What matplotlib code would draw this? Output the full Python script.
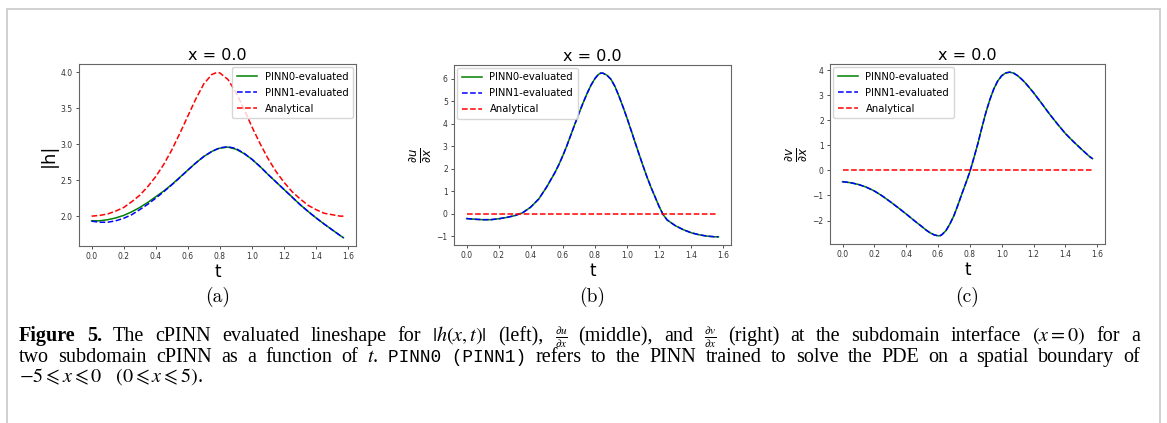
import numpy as np
import matplotlib
matplotlib.use('Agg')
import matplotlib.pyplot as plt
from matplotlib.patches import Rectangle

# === Data (t in [0, pi/2]), x = 0 ===
t_a = [0.00, 0.05, 0.10, 0.15, 0.20, 0.25, 0.30, 0.35, 0.40, 0.45, 0.50,
       0.55, 0.60, 0.65, 0.70, 0.75, 0.785, 0.80, 0.85, 0.90, 0.95, 1.00,
       1.05, 1.10, 1.15, 1.20, 1.25, 1.30, 1.35, 1.40, 1.45, 1.50, 1.55, 1.57]
h_pinn0 = [1.935, 1.935, 1.95, 1.975, 2.01, 2.06, 2.12, 2.19, 2.27, 2.35, 2.44,
           2.54, 2.64, 2.74, 2.83, 2.90, 2.935, 2.945, 2.96, 2.93, 2.87, 2.79,
           2.69, 2.58, 2.475, 2.37, 2.265, 2.16, 2.065, 1.975, 1.89, 1.81, 1.73, 1.70]
h_pinn1 = [1.93, 1.915, 1.915, 1.935, 1.97, 2.02, 2.09, 2.165, 2.25, 2.34, 2.435,
           2.535, 2.64, 2.74, 2.83, 2.90, 2.935, 2.95, 2.965, 2.94, 2.875, 2.79,
           2.69, 2.58, 2.475, 2.37, 2.265, 2.16, 2.065, 1.975, 1.89, 1.81, 1.73, 1.70]
h_exact = [2.00, 2.01, 2.03, 2.07, 2.12, 2.20, 2.29, 2.41, 2.55, 2.72, 2.92,
           3.15, 3.39, 3.63, 3.84, 3.97, 4.00, 3.99, 3.90, 3.72, 3.49, 3.24,
           3.01, 2.80, 2.62, 2.47, 2.34, 2.24, 2.15, 2.09, 2.04, 2.02, 2.00, 2.00]

t_b = [0.00, 0.05, 0.10, 0.15, 0.20, 0.25, 0.30, 0.35, 0.40, 0.45, 0.50, 0.55,
       0.575, 0.60, 0.625, 0.65, 0.675, 0.70, 0.725, 0.75, 0.775, 0.80,
       0.82, 0.835,
       0.85, 0.875, 0.90, 0.925, 0.95, 0.975, 1.00, 1.025, 1.05, 1.075, 1.10,
       1.125, 1.15, 1.175, 1.20, 1.225, 1.25,
       1.30, 1.35, 1.40, 1.45, 1.50, 1.55, 1.57]
ux_pinn0 = [-0.21, -0.24, -0.26, -0.26, -0.22, -0.16, -0.08, 0.05, 0.30, 0.66, 1.20, 1.82,
            2.18, 2.58, 3.02, 3.50, 3.98, 4.45, 4.90, 5.32, 5.70, 6.00,
            6.17, 6.24,
            6.24, 6.15, 5.97, 5.65, 5.22, 4.75, 4.25, 3.72, 3.18, 2.65, 2.13,
            1.63, 1.17, 0.75, 0.33, -0.03, -0.27,
            -0.52, -0.70, -0.84, -0.93, -0.99, -1.02, -1.02]
ux_pinn1 = list(ux_pinn0)
ux_exact = [0.0] * len(t_b)

t_c = [0.00, 0.05, 0.10, 0.15, 0.20, 0.25, 0.30, 0.35, 0.40, 0.45,
       0.50, 0.525, 0.55, 0.575, 0.60, 0.615, 0.625, 0.65, 0.675, 0.70, 0.725,
       0.75, 0.775, 0.80, 0.825, 0.85, 0.875, 0.90, 0.925, 0.95, 0.975, 1.00,
       1.025, 1.05, 1.075, 1.10, 1.125, 1.15,
       1.20, 1.25, 1.30, 1.35, 1.40, 1.45, 1.50, 1.55, 1.57]
vx_pinn0 = [-0.45, -0.49, -0.56, -0.67, -0.82, -1.02, -1.25, -1.49, -1.74, -2.00,
            -2.25, -2.38, -2.49, -2.57, -2.61, -2.60, -2.56, -2.40, -2.13, -1.80, -1.38,
            -0.93, -0.50, -0.05, 0.50, 1.07, 1.70, 2.30, 2.82, 3.25, 3.57, 3.78,
            3.89, 3.92, 3.88, 3.78, 3.64, 3.48,
            3.10, 2.68, 2.25, 1.85, 1.47, 1.15, 0.85, 0.56, 0.47]
vx_pinn1 = list(vx_pinn0)
vx_exact = [0.0] * len(t_c)

panels = [
    (t_a, h_pinn0, h_pinn1, h_exact, '|h|', 'upper right', '(a)'),
    (t_b, ux_pinn0, ux_pinn1, ux_exact, r'$\frac{\partial u}{\partial x}$', 'upper left', '(b)'),
    (t_c, vx_pinn0, vx_pinn1, vx_exact, r'$\frac{\partial v}{\partial x}$', 'upper left', '(c)'),
]

W, H = 1167, 423
fig = plt.figure(figsize=(W / 100, H / 100), dpi=100)

# axes boxes in pixels: left, right, top, bottom
boxes = [(79, 356, 64, 246), (454, 731, 65, 245), (830, 1105, 64, 244)]

for (t, p0, p1, ex, ylab, loc, tag), (l, r, tp, bt) in zip(panels, boxes):
    ax = fig.add_axes([l / W, 1 - bt / H, (r - l) / W, (bt - tp) / H])
    ax.plot(t, p0, color='g', lw=1.1, label='PINN0-evaluated')
    ax.plot(t, p1, 'b--', lw=1.1, label='PINN1-evaluated')
    ax.plot(t, ex, 'r--', lw=1.1, label='Analytical')
    ax.set_title('x = 0.0', fontsize=11.5, pad=3)
    ax.set_xlabel('t', fontsize=12, labelpad=1)
    ax.set_ylabel(ylab, fontsize=13 if tag == '(a)' else 12, labelpad=2)
    ax.tick_params(labelsize=5.5, length=2.5, width=0.6, pad=2, colors='#333333')
    for s in ax.spines.values():
        s.set_color('#666666')
        s.set_linewidth(0.8)
    ax.legend(loc=loc, fontsize=7.2, borderpad=0.45, labelspacing=0.6,
              handlelength=2.0, borderaxespad=0.3)
    fig.text((l + r) / 2 / W, 1 - 297 / H, tag, fontsize=14, family='cmr10',
             ha='center', va='center')

# page frame
fig.add_artist(Rectangle((7 / W, -0.1), (1160 - 7) / W, (H - 9) / H + 0.1,
                         transform=fig.transFigure, fill=False,
                         edgecolor='#c8c8c8', lw=1.2, clip_on=False))

# === Caption (justified lines) ===
fs = 14.5
renderer = fig.canvas.get_renderer()
x_left, x_right = 19, 1140
serif = dict(family='Liberation Serif')
bold = dict(family='Liberation Serif', weight='bold')
mono = dict(family='Liberation Mono', fontsize=fs * 0.88)
frac = dict(family='Liberation Serif', fontsize=fs * 0.8)


def words(s):
    # split on spaces that are outside $...$
    out, cur, inmath = [], '', False
    for ch in s:
        if ch == '$':
            inmath = not inmath
        if ch == ' ' and not inmath:
            if cur:
                out.append(cur)
            cur = ''
        else:
            cur += ch
    if cur:
        out.append(cur)
    return out


def caption_line(parts, y, justify=True):
    items = []
    for s, kw in parts:
        if kw is mono or kw is frac:
            items.append((s, kw))
        else:
            items.extend((w, kw) for w in words(s))
    texts = []
    for s, kw in items:
        opts = dict(fontsize=fs)
        opts.update(kw)
        texts.append(fig.text(0, 1 - y / H, s, va='baseline',
                              math_fontfamily='stix', **opts))
    widths = [tx.get_window_extent(renderer).width for tx in texts]
    if justify:
        gap = (x_right - x_left - sum(widths)) / (len(texts) - 1)
    else:
        gap = fs * 0.25 * 100 / 72
    x = x_left
    for tx, w in zip(texts, widths):
        tx.set_x(x / W)
        x += w + gap


caption_line([
    ('Figure 5.', bold),
    (r'The cPINN evaluated lineshape for $|h(x,t)|$ (left),', serif),
    (r'$\frac{\partial u}{\partial x}$', frac),
    ('(middle), and', serif),
    (r'$\frac{\partial v}{\partial x}$', frac),
    (r'(right) at the subdomain interface $(x=0)$ for a', serif),
], 341)
caption_line([
    (r'two subdomain cPINN as a function of $t$.', serif),
    ('PINN0 (PINN1)', mono),
    ('refers to the PINN trained to solve the PDE on a spatial boundary of', serif),
], 362)
caption_line([
    (r'$-5\leqslant x\leqslant 0\quad(0\leqslant x\leqslant 5)$.', serif),
], 382, justify=False)

fig.savefig('out.png', dpi=100)
